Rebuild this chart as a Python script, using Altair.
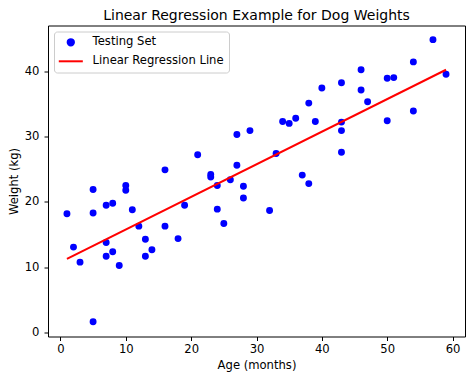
import altair as alt
import pandas as pd

# Testing set (age in months, weight in kg)
age = [1, 2, 3, 5, 5, 5, 7, 7, 7, 8, 8, 9, 10, 10, 11, 12, 13, 13, 14, 16, 16, 18, 19,
       21, 23, 23, 24, 24, 25, 26, 27, 27, 28, 28, 29, 32, 33, 34, 35, 36, 37, 38, 38,
       39, 40, 43, 43, 43, 43, 46, 46, 47, 50, 51, 50, 54, 54, 57, 59]
weight = [18.2, 13.1, 10.8, 21.9, 18.3, 1.7, 19.5, 13.8, 11.7, 19.8, 12.4, 10.3, 22.5, 21.8,
          18.8, 16.3, 14.3, 11.7, 12.7, 24.9, 16.3, 14.4, 19.5, 27.2, 24.2, 23.8, 22.5, 18.9,
          16.7, 23.4, 30.3, 25.6, 22.4, 20.6, 30.9, 18.7, 27.4, 32.3, 32.0, 32.8, 24.1, 22.8,
          35.1, 32.3, 37.4, 38.2, 32.2, 30.9, 27.6, 40.2, 37.1, 35.3, 38.9, 39.0, 32.4, 41.4,
          33.9, 44.8, 39.5]

# Regression line endpoints
line_age = [1, 59]
line_weight = [11.3, 40.2]

series = ["Testing Set", "Linear Regression Line"]
x_ticks = [0, 10, 20, 30, 40, 50, 60]
y_ticks = [0, 10, 20, 30, 40]

pts = pd.DataFrame({"age": age, "weight": weight, "series": series[0]})
ln = pd.DataFrame({"age": line_age, "weight": line_weight, "series": series[1]})

FONT = "DejaVu Sans"
FS = 11.6

xs = alt.Scale(domain=[-1.9, 61.9], nice=False, zero=False)
ys = alt.Scale(domain=[-0.56, 46.96], nice=False, zero=False)
xax = alt.Axis(values=x_ticks, title="Age (months)", grid=False, domain=False,
               labelPadding=3, titlePadding=4)
yax = alt.Axis(values=y_ticks, title="Weight (kg)", grid=False, domain=False,
               labelPadding=5, titlePadding=5)

color_scale = alt.Scale(domain=series, range=["blue", "red"])
shape_scale = alt.Scale(domain=series, range=["circle", "M-3.8,0H3.8"])
legend = alt.Legend(title=None, orient="top-left", offset=6, padding=5,
                    symbolSize=40, symbolStrokeWidth=2, symbolOffset=6,
                    labelOffset=16, rowPadding=5, fillColor="white",
                    strokeColor="#cccccc", cornerRadius=3, labelFont=FONT,
                    labelFontSize=FS, labelColor="black")

x_enc = alt.X("age:Q", scale=xs, axis=xax)
y_enc = alt.Y("weight:Q", scale=ys, axis=yax)

points = alt.Chart(pts).mark_point(filled=True, size=48, opacity=1).encode(
    x=x_enc,
    y=y_enc,
    color=alt.Color("series:N", scale=color_scale, legend=legend),
    shape=alt.Shape("series:N", scale=shape_scale, legend=legend),
)

line = alt.Chart(ln).mark_line(strokeWidth=2).encode(
    x=x_enc,
    y=y_enc,
    color=alt.Color("series:N", scale=color_scale, legend=legend),
)

chart = alt.layer(points, line).properties(
    width=417,
    height=311,
    title=alt.TitleParams("Linear Regression Example for Dog Weights", font=FONT,
                          fontSize=14, fontWeight="normal", color="black",
                          anchor="middle", offset=3),
    autosize=alt.AutoSizeParams(type="none"),
    padding={"left": 40, "top": 17.5, "right": 1, "bottom": 36},
).configure_view(
    stroke="black", strokeWidth=1
).configure_axis(
    labelFont=FONT, labelFontSize=FS, labelColor="black",
    titleFont=FONT, titleFontSize=FS, titleFontWeight="normal", titleColor="black",
    tickColor="black", tickSize=4, tickWidth=1
)

chart.save("out.html", embed_options={"renderer": "svg", "actions": False})
